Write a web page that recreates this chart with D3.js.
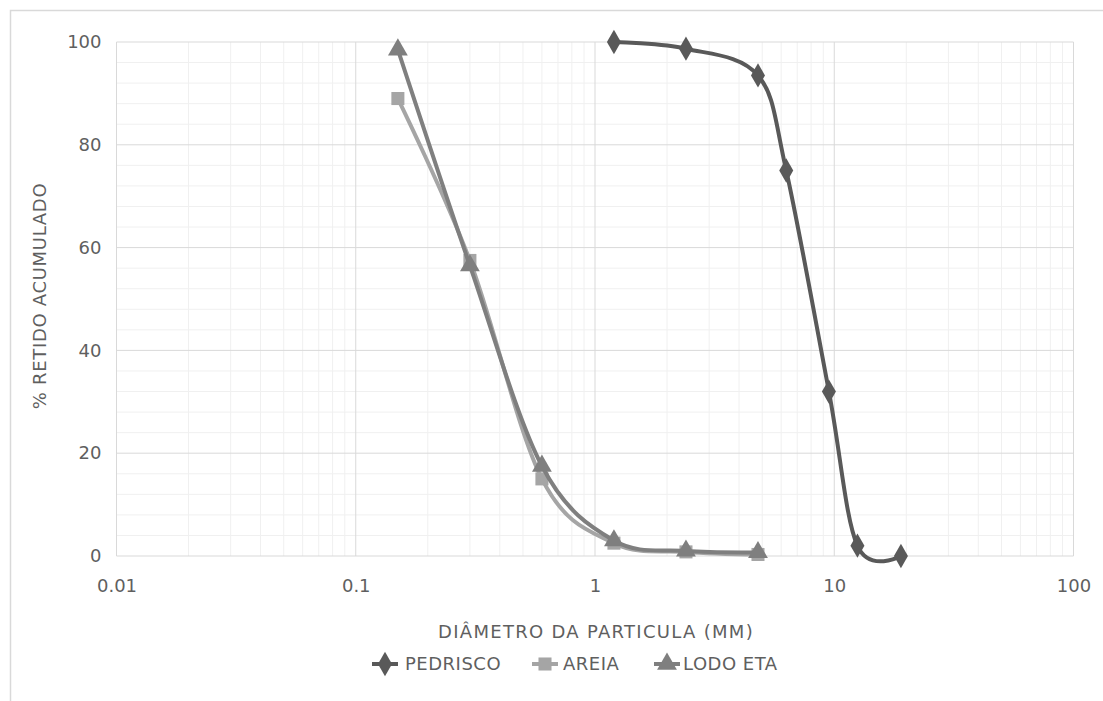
<!DOCTYPE html>
<html>
<head>
<meta charset="utf-8">
<script src="https://cdn.jsdelivr.net/npm/d3@7"></script>
<style>
  html, body { margin: 0; padding: 0; background: #fff; }
  svg { display: block; }
  text { font-family: "DejaVu Sans", "Open Sans", sans-serif; fill: #5f5f5f; }
</style>
</head>
<body>
<svg id="chart" width="1103" height="701"></svg>
<script>
// ---- data ----
const seriesNames = ["PEDRISCO", "AREIA", "LODO ETA"];
const pedriscoX = [1.2, 2.4, 4.8, 6.3, 9.5, 12.5, 19];
const pedriscoY = [100, 98.7, 93.5, 75, 32, 2, 0];
const areiaX = [0.15, 0.3, 0.6, 1.2, 2.4, 4.8];
const areiaY = [89, 57.5, 15, 2.5, 0.8, 0.3];
const lodoX = [0.15, 0.3, 0.6, 1.2, 2.4, 4.8];
const lodoY = [98.5, 56.5, 17.5, 3, 1, 0.7];
const xTicks = [0.01, 0.1, 1, 10, 100];
const xTickLabels = ["0.01", "0.1", "1", "10", "100"];
const yTicks = [0, 20, 40, 60, 80, 100];
const xTitle = "DIÂMETRO DA PARTICULA (MM)";
const yTitle = "% RETIDO ACUMULADO";

(function () {
const FS = "18px";
const svg = d3.select("#chart");
const pLeft = 116.5, pRight = 1073.5, pTop = 42, pBottom = 556;
const x = d3.scaleLog().domain([0.01, 100]).range([pLeft, pRight]);
const y = d3.scaleLinear().domain([0, 100]).range([pBottom, pTop]);

// outer frame
svg.append("path")
  .attr("d", `M10.5,701V10.5H1103`)
  .attr("fill", "none").attr("stroke", "#d9d9d9").attr("stroke-width", 1.5);

// minor grid
const g = svg.append("g");
const minorX = [];
for (let e = -2; e < 2; e++) for (let k = 2; k <= 9; k++) minorX.push(k * Math.pow(10, e));
const minorY = d3.range(0, 101, 4).filter(v => v % 20 !== 0);
g.append("g").selectAll("line").data(minorX).join("line")
  .attr("x1", d => x(d)).attr("x2", d => x(d)).attr("y1", pTop).attr("y2", pBottom)
  .attr("stroke", "#f0f0f0").attr("stroke-width", 1);
g.append("g").selectAll("line").data(minorY).join("line")
  .attr("x1", pLeft).attr("x2", pRight).attr("y1", d => y(d)).attr("y2", d => y(d))
  .attr("stroke", "#f0f0f0").attr("stroke-width", 1);
// major grid
g.append("g").selectAll("line").data(xTicks).join("line")
  .attr("x1", d => x(d)).attr("x2", d => x(d)).attr("y1", pTop).attr("y2", pBottom)
  .attr("stroke", "#d9d9d9").attr("stroke-width", 1);
g.append("g").selectAll("line").data(yTicks).join("line")
  .attr("x1", pLeft).attr("x2", pRight).attr("y1", d => y(d)).attr("y2", d => y(d))
  .attr("stroke", "#d9d9d9").attr("stroke-width", 1);

// axes labels via d3 axes
const xAxis = d3.axisBottom(x).tickValues(xTicks).tickFormat((d, i) => xTickLabels[i]).tickSize(0).tickPadding(23);
const xa = svg.append("g").attr("transform", `translate(0,${pBottom})`).call(xAxis);
xa.select(".domain").remove();
xa.selectAll("text").style("font-size", FS).attr("fill", "#5f5f5f").style("font-family", '"DejaVu Sans", sans-serif');

const yAxis = d3.axisLeft(y).tickValues(yTicks).tickSize(0).tickPadding(15);
const ya = svg.append("g").attr("transform", `translate(${pLeft},0)`).call(yAxis);
ya.select(".domain").remove();
ya.selectAll("text").style("font-size", FS).attr("fill", "#5f5f5f").style("font-family", '"DejaVu Sans", sans-serif');

// titles
svg.append("text").attr("x", 596).attr("y", 638)
  .attr("text-anchor", "middle").style("font-size", FS).style("letter-spacing", "1.3px").text(xTitle);
svg.append("text").attr("transform", `translate(46,${296}) rotate(-90)`)
  .attr("text-anchor", "middle").style("font-size", FS).style("letter-spacing", "0.7px").text(yTitle);

// ---- series ----
const colors = ["#595959", "#a5a5a5", "#7f7f7f"];
const shapes = [d3.symbolDiamond, d3.symbolSquare, d3.symbolTriangle];
const data = [
  d3.zip(pedriscoX, pedriscoY),
  d3.zip(areiaX, areiaY),
  d3.zip(lodoX, lodoY)
];
const line = d3.line().x(d => x(d[0])).y(d => y(d[1])).curve(d3.curveCardinal.tension(0));
const symSizes = [170, 170, 170];

data.forEach((pts, i) => {
  svg.append("path").datum(pts).attr("d", line)
    .attr("fill", "none").attr("stroke", colors[i]).attr("stroke-width", 4)
    .attr("stroke-linejoin", "round").attr("stroke-linecap", "round");
  svg.append("g").selectAll("path").data(pts).join("path")
    .attr("transform", d => `translate(${x(d[0])},${y(d[1])})`)
    .attr("d", d3.symbol().type(shapes[i]).size(symSizes[i]))
    .attr("fill", colors[i]);
});

// ---- legend ----
const legendY = 664;
const legendMarkX = [385, 545, 667];
const legendTextX = [405, 563, 683];
seriesNames.forEach((name, i) => {
  const lg = svg.append("g").attr("transform", `translate(${legendMarkX[i]},${legendY})`);
  lg.append("line").attr("x1", -13).attr("x2", 13).attr("y1", 0).attr("y2", 0)
    .attr("stroke", colors[i]).attr("stroke-width", 4);
  lg.append("path").attr("d", d3.symbol().type(shapes[i]).size(symSizes[i])).attr("fill", colors[i]);
  svg.append("text").attr("x", legendTextX[i]).attr("y", legendY).attr("dy", "0.35em")
    .style("font-size", FS).style("letter-spacing", "0.5px").text(name);
});
})();
</script>
</body>
</html>
